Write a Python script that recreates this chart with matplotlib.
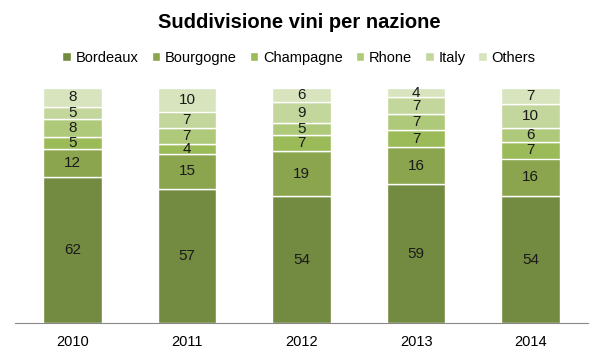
import matplotlib.pyplot as plt
import numpy as np

plt.rcParams['font.family'] = ['Liberation Sans', 'DejaVu Sans']

years = ['2010', '2011', '2012', '2013', '2014']
regions = ['Bordeaux', 'Bourgogne', 'Champagne', 'Rhone', 'Italy', 'Others']
bordeaux = [62, 57, 54, 59, 54]
bourgogne = [12, 15, 19, 16, 16]
champagne = [5, 4, 7, 7, 7]
rhone = [8, 7, 5, 7, 6]
italy = [5, 7, 9, 7, 10]
others = [8, 10, 6, 4, 7]
colors = ['#738B40', '#8AA54E', '#9BBB59', '#AFC97A', '#C3D69B', '#D7E4BD']

series = [bordeaux, bourgogne, champagne, rhone, italy, others]

fig = plt.figure(figsize=(5.98, 3.59), dpi=100)
ax = fig.add_axes([15 / 598, 1 - 323 / 359, 573 / 598, 235 / 359])

x = np.arange(len(years))
bottom = np.zeros(len(years))
for name, vals, c in zip(regions, series, colors):
    ax.bar(x, vals, width=0.51, bottom=bottom, color=c,
           edgecolor='white', linewidth=1, label=name)
    for xi, b, v in zip(x, bottom, vals):
        ax.text(xi, b + v / 2, str(v), ha='center', va='center',
                fontsize=11, color='#1a1a1a')
    bottom += np.array(vals)

ax.set_xlim(-0.5, 4.5)
ax.set_ylim(0, 100)
ax.set_yticks([])
ax.set_xticks(x)
ax.set_xticklabels(years, fontsize=10.5)
ax.tick_params(axis='x', length=0, pad=9)
for s in ['top', 'right', 'left']:
    ax.spines[s].set_visible(False)
ax.spines['bottom'].set_color('#888888')

fig.text(0.5, 1 - 22 / 359, 'Suddivisione vini per nazione', ha='center',
         va='center', fontsize=14.5, fontweight='bold')
fig.legend(loc='center', bbox_to_anchor=(0.5, 1 - 58 / 359), ncol=6,
           frameon=False, fontsize=10.5, handlelength=0.6, handleheight=0.6,
           handletextpad=0.3, columnspacing=0.9)

fig.savefig('out.png', dpi=100)
